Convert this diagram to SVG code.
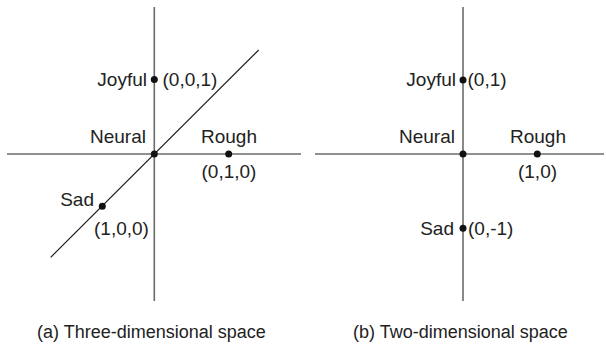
<svg xmlns="http://www.w3.org/2000/svg" width="606" height="348" viewBox="0 0 606 348">
<style>
.axis{stroke:#6b6b6b;stroke-width:1.6;fill:none}
.diag{stroke:#222;stroke-width:1.2;fill:none}
.dot{fill:#111}
text{font-family:"Liberation Sans",Arial,sans-serif;font-size:19px;fill:#222}
.cap{font-size:18px}
.e{text-anchor:end}
.m{text-anchor:middle}
</style>
<rect width="606" height="348" fill="#fff"/>
<g id="connectors">
<line class="axis" x1="154.3" y1="7" x2="154.3" y2="301"/>
<line class="axis" x1="7" y1="154" x2="301" y2="154"/>
<line class="diag" x1="50.7" y1="257.3" x2="258.7" y2="50"/>
<line class="axis" x1="463" y1="7" x2="463" y2="301"/>
<line class="axis" x1="315" y1="154" x2="604" y2="154"/>
</g>
<g id="a-neural"><circle class="dot" cx="154.3" cy="154" r="3.5"/><text class="e" x="146" y="143">Neural</text></g>
<g id="a-joyful"><circle class="dot" cx="154.3" cy="79.5" r="3.5"/><text class="e" x="147" y="86">Joyful</text><text x="162.5" y="86">(0,0,1)</text></g>
<g id="a-rough"><circle class="dot" cx="228.7" cy="154" r="3.5"/><text class="m" x="229" y="143">Rough</text><text class="m" x="229" y="178">(0,1,0)</text></g>
<g id="a-sad"><circle class="dot" cx="102.3" cy="206.3" r="3.5"/><text class="e" x="94" y="206">Sad</text><text x="94" y="235">(1,0,0)</text></g>
<g id="b-neural"><circle class="dot" cx="463" cy="154" r="3.5"/><text class="e" x="455" y="143">Neural</text></g>
<g id="b-joyful"><circle class="dot" cx="463" cy="80" r="3.5"/><text class="e" x="456" y="86">Joyful</text><text x="467.5" y="86">(0,1)</text></g>
<g id="b-rough"><circle class="dot" cx="537.3" cy="154" r="3.5"/><text class="m" x="538" y="143">Rough</text><text class="m" x="537.5" y="178">(1,0)</text></g>
<g id="b-sad"><circle class="dot" cx="463" cy="228.3" r="3.5"/><text class="e" x="454" y="235">Sad</text><text x="468" y="235">(0,-1)</text></g>
<g id="captions">
<text class="cap" x="37" y="338">(a) Three-dimensional space</text>
<text class="cap" x="353" y="338">(b) Two-dimensional space</text>
</g>
</svg>
